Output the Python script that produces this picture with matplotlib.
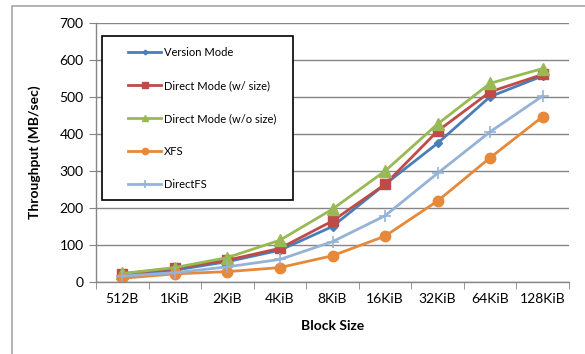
import matplotlib.pyplot as plt
from matplotlib.patches import Rectangle
from matplotlib.legend_handler import HandlerLine2D

plt.rcParams['font.family'] = ['Lato', 'DejaVu Sans']

# block sizes on the x axis
blocks = ['512B', '1KiB', '2KiB', '4KiB', '8KiB', '16KiB', '32KiB', '64KiB', '128KiB']

# throughput values (MB/sec)
version_mode = [18, 32, 55, 86, 150, 264, 375, 501, 557]
direct_size = [22, 37, 59, 91, 165, 264, 408, 514, 561]
direct_nosize = [23, 39, 66, 113, 197, 300, 427, 537, 577]
xfs = [10, 22, 28, 39, 71, 124, 219, 336, 447]
directfs = [16, 25, 41, 61, 109, 179, 294, 406, 503]

W, H = 585, 354
fig = plt.figure(figsize=(W / 100, H / 100), dpi=100)
ax = fig.add_axes([96 / W, 1 - 282 / H, 473 / W, 259 / H])

# outer chart frame
fig.patches.append(Rectangle((12 / W, -0.1), 1.2, 1 - 6 / H + 0.1,
                             transform=fig.transFigure, fill=False,
                             edgecolor='#a6a6a6', linewidth=1.2))

x = range(len(blocks))
lw = 2.0
ax.plot(x, version_mode, color='#4a7ebb', marker='D', markersize=4, linewidth=lw, label='Version Mode')
ax.plot(x, direct_size, color='#be4b48', marker='s', markersize=7.5, linewidth=lw, label='Direct Mode (w/ size)')
ax.plot(x, direct_nosize, color='#98b954', marker='^', markersize=8, linewidth=lw, label='Direct Mode (w/o size)')
ax.plot(x, xfs, color='#e6893b', marker='o', markersize=7.5, linewidth=lw, label='XFS')
ax.plot(x, directfs, color='#95b3d7', marker='+', markersize=9, markeredgewidth=1.2, linewidth=lw, label='DirectFS')

ax.set_xlim(-0.5, len(blocks) - 0.5)
ax.set_ylim(0, 700)
ax.set_yticks(range(0, 701, 100))
ax.set_xticks(list(x))
ax.set_xticklabels(blocks)
ax.set_xticks([i - 0.5 for i in range(len(blocks) + 1)], minor=True)
ax.tick_params(axis='x', which='major', length=0, labelsize=10, pad=8)
ax.tick_params(axis='x', which='minor', length=5, color='#868686', direction='out')
ax.tick_params(axis='y', length=5, color='#868686', labelsize=10, pad=4)

ax.yaxis.grid(True, color='#868686', linewidth=1)
ax.set_axisbelow(True)
for side in ['top', 'right']:
    ax.spines[side].set_visible(False)
for side in ['left', 'bottom']:
    ax.spines[side].set_color('#868686')
    ax.spines[side].set_linewidth(1)

ax.set_xlabel('Block Size', fontsize=10, fontweight='bold', labelpad=11)
ax.set_ylabel('Throughput (MB/sec)', fontsize=10, fontweight='bold', labelpad=13)

# legend box drawn as its own rectangle, legend itself frameless
box = Rectangle((102 / W, 1 - 200 / H), 191 / W, 164 / H,
                transform=fig.transFigure, facecolor='white',
                edgecolor='black', linewidth=1.2, zorder=4, clip_on=False)
ax.add_artist(box)
hmap = {l: HandlerLine2D(xpad=0) for l in ax.get_lines()}
leg = ax.legend(loc='upper left', bbox_to_anchor=(128 / W, 1 - 47 / H),
                bbox_transform=fig.transFigure, fontsize=8,
                frameon=False, labelspacing=1.98, handlelength=3.0,
                handletextpad=0.2, borderpad=0, borderaxespad=0,
                markerscale=0.6, handler_map=hmap)
leg.set_zorder(6)

plt.savefig('out.png', dpi=100)
